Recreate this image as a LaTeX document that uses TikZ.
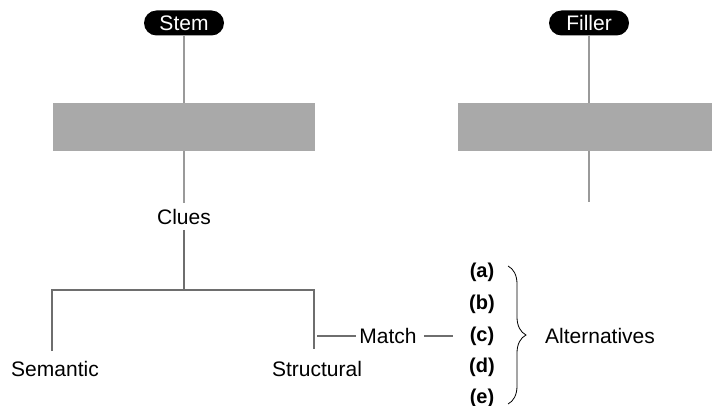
\documentclass[tikz,border=0pt]{standalone}
\usepackage{fontspec}
\setmainfont{Liberation Sans}
\usetikzlibrary{decorations.pathreplacing}
\definecolor{boxgray}{HTML}{A9A9A9}
\definecolor{toplinecol}{HTML}{9A9A9A}
\definecolor{treecol}{HTML}{6E6E6E}
\begin{document}
\begin{tikzpicture}[x=1pt,y=-1pt,
  every node/.style={font=\fontsize{21}{24}\selectfont, inner sep=0pt},
  pill/.style={fill=black, text=white, rounded corners=12.5pt, minimum height=25pt, minimum width=80pt},
  graybox/.style={fill=boxgray, minimum height=48pt},
  topline/.style={draw=toplinecol, line width=1.4pt},
  treeline/.style={draw=treecol, line width=1.3pt},
  letter/.style={font=\fontsize{20}{24}\selectfont\bfseries}
]
\useasboundingbox (0,0) rectangle (712,406);
% top nodes
\node[pill] (stem) at (184,23) {Stem};
\node[pill] (filler) at (589,23) {Filler};
\node[graybox, minimum width=262pt] (box1) at (184,127) {};
\node[graybox, minimum width=254pt] (box2) at (585,127) {};
\node (clues) at (184,217) {Clues};
\coordinate (fend) at (589,202);
\draw[topline] (stem.south) -- (box1.north);
\draw[topline] (box1.south) -- ([yshift=6pt]clues.north);
\draw[topline] (filler.south) -- (filler.south |- box2.north);
\draw[topline] (box2.south -| fend) -- (fend);
% tree
\coordinate (j) at (184,290);
\coordinate (jl) at (52,290);
\coordinate (jr) at (314,290);
\coordinate (sl) at (52,351);
\coordinate (sr) at (314,349);
\node (semantic) at (55,369) {Semantic};
\node (structural) at (317,369) {Structural};
\draw[treeline] ([yshift=-5pt]clues.south) -- (j);
\draw[treeline] (sl) -- (jl) -- (jr) -- (sr);
% match
\node (match) at (388,336) {Match};
\coordinate (ms) at (317,336);
\coordinate (me) at (453,336);
\node[letter] (a) at (482,272) {(a)};
\node[letter] (b) at (482,304) {(b)};
\node[letter] (c) at (482,336) {(c)};
\node[letter] (d) at (482,367) {(d)};
\node[letter] (e) at (482,398) {(e)};
\draw[treeline] (ms) -- ([xshift=-3pt]match.west);
\draw[treeline] ([xshift=7pt]match.east) -- (me);
% brace
\coordinate (bt) at (508,266);
\coordinate (bb) at (508,404);
\draw[line width=0.8pt, decorate, decoration={brace, amplitude=18pt}] (bt) -- (bb);
\node (alt) at (600,336) {Alternatives};
\end{tikzpicture}
\end{document}
